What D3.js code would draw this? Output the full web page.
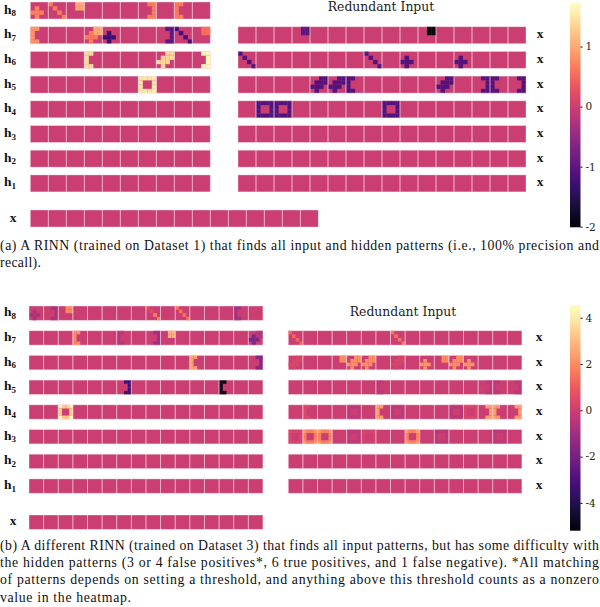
<!DOCTYPE html>
<html>
<head>
<meta charset="utf-8">
<script src="https://cdn.jsdelivr.net/npm/d3@7"></script>
<style>
  html, body { margin: 0; padding: 0; background: #fff; }
  svg { display: block; }
  .cap { font-family: "Liberation Serif", serif; font-size: 13.8px; fill: #111; }
  .title { font-family: "DejaVu Serif", serif; font-size: 12.4px; fill: #222; }
  .lab { font-family: "Liberation Serif", serif; font-weight: bold; font-size: 13.5px; fill: #111; }
  .tick text { font-family: "DejaVu Serif", serif; font-size: 10.5px; fill: #222; }
</style>
</head>
<body>
<div id="chart"></div>
<script>
// row labels, top row first
const hiddenRows = ["8", "7", "6", "5", "4", "3", "2", "1"];

// 4x4 shapes, digit = share of the tile value (9 is full)
const cross = ["0000", "0900", "9990", "0900"];
const corner = ["0099", "0099", "0000", "0000"];
const blob = ["0099", "0999", "9990", "0900"];
const diag = ["9000", "0900", "0090", "0009"];
const lbracket = ["9900", "9000", "9000", "9900"];
const rbracket = ["0099", "0009", "0009", "0099"];
const ring = ["9999", "9009", "9009", "9999"];
const softRing = ["9779", "7007", "7007", "9779"];
const halfDiag = ["3000", "0300", "0090", "0009"];

// [row, tile, shape, value], everything else in a panel sits at 0
const hiddenA = [
  [0, 0, cross, 0.7], [0, 1, diag, 0.65], [0, 2, corner, 1.0], [0, 6, rbracket, 0.65], [0, 8, lbracket, 0.65],
  [1, 0, lbracket, 0.85], [1, 3, cross, 0.65], [1, 3, corner, 1.0], [1, 4, cross, -1.3], [1, 7, rbracket, -1.0], [1, 8, diag, -1.2], [1, 9, corner, 0.55],
  [2, 3, lbracket, 1.4], [2, 7, blob, 1.35], [2, 9, rbracket, 1.65],
  [3, 6, ring, 1.5]
];
const redundantA = [
  [1, 3, corner, -1.0], [1, 10, corner, -2.0],
  [2, 0, diag, -1.1], [2, 7, diag, -1.1], [2, 9, cross, -1.1], [2, 12, cross, -1.1],
  [3, 4, blob, -1.1], [3, 5, blob, -1.1], [3, 6, lbracket, -1.1], [3, 11, blob, -1.1], [3, 13, rbracket, -1.1], [3, 14, lbracket, -1.1], [3, 15, rbracket, -1.1],
  [4, 1, ring, -1.1], [4, 2, ring, -1.1], [4, 8, ring, -1.1]
];
const hiddenB = [
  [0, 0, cross, -0.8], [0, 1, rbracket, -0.8], [0, 2, corner, 2.0], [0, 8, halfDiag, 1.8], [0, 10, diag, 1.5], [0, 14, lbracket, -0.9],
  [1, 3, lbracket, 2.0], [1, 6, lbracket, -0.5], [1, 8, rbracket, -1.0], [1, 9, corner, 2.8], [1, 15, cross, -1.8], [1, 15, corner, -0.6],
  [2, 11, lbracket, 2.5], [2, 15, rbracket, -1.6],
  [3, 6, rbracket, -3.3], [3, 13, lbracket, -5.0],
  [4, 2, softRing, 4.2]
];
const redundantB = [
  [1, 0, diag, 1.2], [1, 7, diag, 1.5],
  [2, 0, blob, 0.3], [2, 3, corner, 2.0], [2, 4, blob, 2.1], [2, 5, blob, 2.1], [2, 7, blob, 0.3], [2, 9, cross, 2.2], [2, 10, corner, 2.0], [2, 11, blob, 2.1], [2, 12, cross, 2.2],
  [3, 6, lbracket, -0.3], [3, 13, rbracket, -0.3], [3, 14, lbracket, -0.3], [3, 15, rbracket, -0.3],
  [4, 1, lbracket, 0.4], [4, 4, ring, -0.3], [4, 6, lbracket, 2.4], [4, 7, ring, -0.3], [4, 11, ring, -0.4], [4, 12, ring, 0.3], [4, 13, rbracket, 2.4], [4, 14, lbracket, 2.4], [4, 15, rbracket, 2.4],
  [5, 0, softRing, 0.4], [5, 1, softRing, 2.3], [5, 2, softRing, 2.3], [5, 4, softRing, -0.3], [5, 5, softRing, 0.3], [5, 8, softRing, 2.4], [5, 10, softRing, -0.4], [5, 14, softRing, -0.4]
];

const ticksA = [-2, -1, 0, 1];
const ticksB = [-4, -2, 0, 2, 4];

const captionA = [
  "(a) A RINN (trained on Dataset 1) that finds all input and hidden patterns (i.e., 100% precision and",
  "recall)."
];
const captionB = [
  "(b) A different RINN (trained on Dataset 3) that finds all input patterns, but has some difficulty with",
  "the hidden patterns (3 or 4 false positives*, 6 true positives, and 1 false negative). *All matching",
  "of patterns depends on setting a threshold, and anything above this threshold counts as a nonzero",
  "value in the heatmap."
];

const svg = d3.select("#chart").append("svg")
  .attr("width", 600)
  .attr("height", 607);

const gridCells = d3.range(4);

// one strip of tiles, marks are drawn over a base at colour(0)
function drawStrip(g, x0, tileCount, tileW, y, tileH, marks, color) {
  const tileX = d3.scaleBand().domain(d3.range(tileCount)).range([x0, x0 + tileW * tileCount]);
  const cellX = d3.scaleBand().domain(gridCells).range([0, tileW]);
  const cellY = d3.scaleBand().domain(gridCells).range([0, tileH]);

  g.append("rect")
    .attr("x", x0).attr("y", y)
    .attr("width", tileW * tileCount).attr("height", tileH)
    .attr("fill", color(0));

  marks.forEach(function(m) {
    const cells = [];
    m[2].forEach(function(line, r) {
      line.split("").forEach(function(c, k) {
        if (c !== "0") cells.push({ r: r, k: k, v: m[3] * (+c / 9) });
      });
    });
    g.selectAll(null)
      .data(cells)
      .enter()
      .append("rect")
      .attr("x", d => tileX(m[1]) + cellX(d.k))
      .attr("y", d => y + cellY(d.r))
      .attr("width", cellX.bandwidth() + 0.05)
      .attr("height", cellY.bandwidth() + 0.05)
      .attr("fill", d => color(d.v));
  });

  // pale tile edges
  g.selectAll(null)
    .data(d3.range(tileCount))
    .enter()
    .append("rect")
    .attr("x", d => tileX(d))
    .attr("y", y)
    .attr("width", tileW)
    .attr("height", tileH)
    .attr("fill", "none")
    .attr("stroke", "#fff")
    .attr("stroke-opacity", 0.4)
    .attr("stroke-width", 0.9);
}

function drawLabel(g, x, y, sub) {
  const t = g.append("text").attr("class", "lab").attr("x", x).attr("y", y);
  if (sub) {
    t.append("tspan").text("h");
    t.append("tspan").attr("dy", 2.5).style("font-size", "9px").text(sub);
  } else {
    t.attr("text-anchor", "middle").text("x");
  }
}

function drawColorbar(g, id, x, y0, y1, domain, ticks, color) {
  const scale = d3.scaleLinear().domain(domain).range([y1, y0]);
  const grad = svg.append("defs").append("linearGradient")
    .attr("id", id)
    .attr("x1", 0).attr("x2", 0).attr("y1", 1).attr("y2", 0);
  grad.selectAll("stop")
    .data(d3.range(0, 1.001, 0.05))
    .enter()
    .append("stop")
    .attr("offset", d => d)
    .attr("stop-color", d => color(domain[0] + d * (domain[1] - domain[0])));
  g.append("rect")
    .attr("x", x).attr("y", y0)
    .attr("width", 10.5).attr("height", y1 - y0)
    .attr("fill", "url(#" + id + ")");
  const axis = g.append("g")
    .attr("transform", "translate(" + (x + 10.5) + ",0)")
    .call(d3.axisRight(scale).tickValues(ticks).tickFormat(d => String(d)).tickSize(2).tickPadding(3));
  axis.select(".domain").remove();
}

function drawPanel(p) {
  const g = svg.append("g");
  const color = d3.scaleSequential(d3.interpolateMagma).domain(p.colorDomain);
  const rowY = d3.scaleLinear().domain([0, 7]).range([p.top, p.top + 7 * 24.7]);

  hiddenRows.forEach(function(name, i) {
    const y = rowY(i);
    drawStrip(g, p.leftX, p.leftTiles, p.leftW, y, p.tileH, p.hidden.filter(m => m[0] === i), color);
    drawLabel(g, 4, y + p.tileH / 2 + 3, name);
    // the redundant strips have no row next to h8
    if (i > 0) {
      drawStrip(g, p.rightX, 16, p.rightW, y, p.tileH, p.redundant.filter(m => m[0] === i), color);
      drawLabel(g, p.xLabel, y + p.tileH / 2 + 3, null);
    }
  });

  drawStrip(g, p.leftX, 16, p.inputW, p.inputY, p.tileH, [], color);
  drawLabel(g, 13, p.inputY + p.tileH / 2 + 3, null);

  g.append("text").attr("class", "title")
    .attr("x", p.titleX).attr("y", p.titleY)
    .attr("text-anchor", "middle")
    .text("Redundant Input");

  drawColorbar(g, p.id, 570, p.barTop, p.barBottom, p.domain, p.ticks, color);

  g.selectAll(null)
    .data(p.caption)
    .enter()
    .append("text")
    .attr("class", "cap")
    .attr("x", 0)
    .attr("y", (d, i) => p.capY + i * p.capStep)
    .attr("textLength", (d, i) => p.capW[i])
    .attr("lengthAdjust", "spacing")
    .text(d => d);
}

drawPanel({
  id: "barA", top: 2, tileH: 17, leftX: 30.3, leftTiles: 10, leftW: 18, rightX: 238, rightW: 18, inputW: 18, inputY: 210,
  xLabel: 540, titleX: 381, titleY: 11, barTop: 2.7, barBottom: 227.3, domain: [-2.01, 1.73], colorDomain: [-2.057, 1.683], ticks: ticksA,
  hidden: hiddenA, redundant: redundantA, caption: captionA, capY: 249.5, capStep: 17.4, capW: [599, 41]
});
drawPanel({
  id: "barB", top: 306, tileH: 14.4, leftX: 29, leftTiles: 16, leftW: 14.62, rightX: 288.3, rightW: 14.6, inputW: 14.62, inputY: 515,
  xLabel: 539, titleX: 403, titleY: 315.5, barTop: 305, barBottom: 530.7, domain: [-5.2, 4.55], colorDomain: [-5.36, 4.39], ticks: ticksB,
  hidden: hiddenB, redundant: redundantB, caption: captionB, capY: 549.5, capStep: 17.4, capW: [599, 599, 599, 131]
});
</script>
</body>
</html>
